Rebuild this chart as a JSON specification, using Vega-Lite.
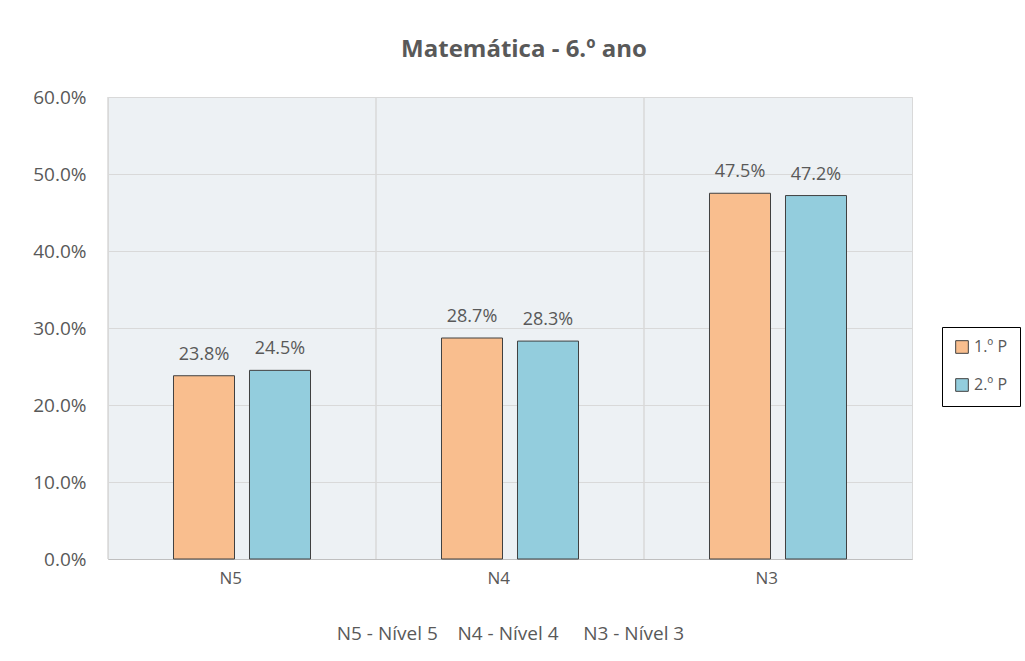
{
  "$schema": "https://vega.github.io/schema/vega-lite/v6.json",
  "autosize": "none",
  "width": 804,
  "height": 462,
  "padding": {"left": 108, "top": 97, "right": 113, "bottom": 102},
  "background": "white",
  "title": {
    "text": "Matemática - 6.º ano",
    "font": "Open Sans",
    "fontSize": 24,
    "fontWeight": "bold",
    "color": "#595959",
    "anchor": "middle",
    "dx": 14,
    "offset": 26
  },
  "data": {
    "values": [
      {"nivel": "N5", "periodo": "1.º P", "valor": 0.238},
      {"nivel": "N5", "periodo": "2.º P", "valor": 0.245},
      {"nivel": "N4", "periodo": "1.º P", "valor": 0.287},
      {"nivel": "N4", "periodo": "2.º P", "valor": 0.283},
      {"nivel": "N3", "periodo": "1.º P", "valor": 0.475},
      {"nivel": "N3", "periodo": "2.º P", "valor": 0.472}
    ]
  },
  "config": {
    "view": {"fill": "#edf1f4", "stroke": "#d9d9d9", "strokeWidth": 1},
    "font": "Open Sans",
    "axis": {"labelColor": "#595959", "titleColor": "#595959", "labelFont": "Open Sans", "titleFont": "Open Sans"}
  },
  "layer": [
    {
      "mark": {"type": "rule", "color": "#d9d9d9", "strokeWidth": 1},
      "encoding": {
        "x": {"field": "nivel", "type": "nominal", "sort": ["N5", "N4", "N3"], "bandPosition": 0}
      }
    },
    {
      "mark": {"type": "bar", "stroke": "#404040", "strokeWidth": 1},
      "encoding": {
        "x": {
          "field": "nivel",
          "type": "nominal",
          "sort": ["N5", "N4", "N3"],
          "scale": {"paddingInner": 0, "paddingOuter": 0},
          "axis": {
            "title": "N5 - Nível 5\u00a0\u00a0\u00a0\u00a0N4 - Nível 4\u00a0\u00a0\u00a0\u00a0\u00a0N3 - Nível 3",
            "titleFontSize": 19,
            "titleFontWeight": "normal",
            "titlePadding": 38,
            "labelAngle": 0,
            "labelFontSize": 17,
            "labelPadding": 19,
            "ticks": false,
            "domainColor": "#bfbfbf",
            "grid": false
          }
        },
        "xOffset": {
          "field": "periodo",
          "type": "nominal",
          "scale": {"paddingInner": 0.197, "paddingOuter": 0.862}
        },
        "y": {
          "field": "valor",
          "type": "quantitative",
          "scale": {"domain": [0, 0.6]},
          "axis": {
            "title": null,
            "format": ".1%",
            "values": [0, 0.1, 0.2, 0.3, 0.4, 0.5, 0.6],
            "labelFontSize": 19,
            "labelPadding": 22,
            "ticks": false,
            "domain": false,
            "gridColor": "#d9d9d9"
          }
        },
        "color": {
          "field": "periodo",
          "type": "nominal",
          "scale": {"domain": ["1.º P", "2.º P"], "range": ["#f9be8e", "#93cddd"]},
          "legend": {
            "title": null,
            "orient": "none",
            "legendX": 834,
            "legendY": 230,
            "strokeColor": "#000000",
            "fillColor": "#ffffff",
            "padding": 12,
            "symbolType": "square",
            "symbolSize": 160,
            "symbolStrokeColor": "#404040",
            "symbolStrokeWidth": 1,
            "labelFontSize": 16,
            "labelColor": "#595959",
            "rowPadding": 20
          }
        }
      }
    },
    {
      "mark": {"type": "text", "dy": -21, "fontSize": 18, "color": "#595959", "font": "Open Sans"},
      "encoding": {
        "x": {"field": "nivel", "type": "nominal", "sort": ["N5", "N4", "N3"]},
        "xOffset": {"field": "periodo", "type": "nominal"},
        "y": {"field": "valor", "type": "quantitative"},
        "text": {"field": "valor", "type": "quantitative", "format": ".1%"}
      }
    }
  ]
}
